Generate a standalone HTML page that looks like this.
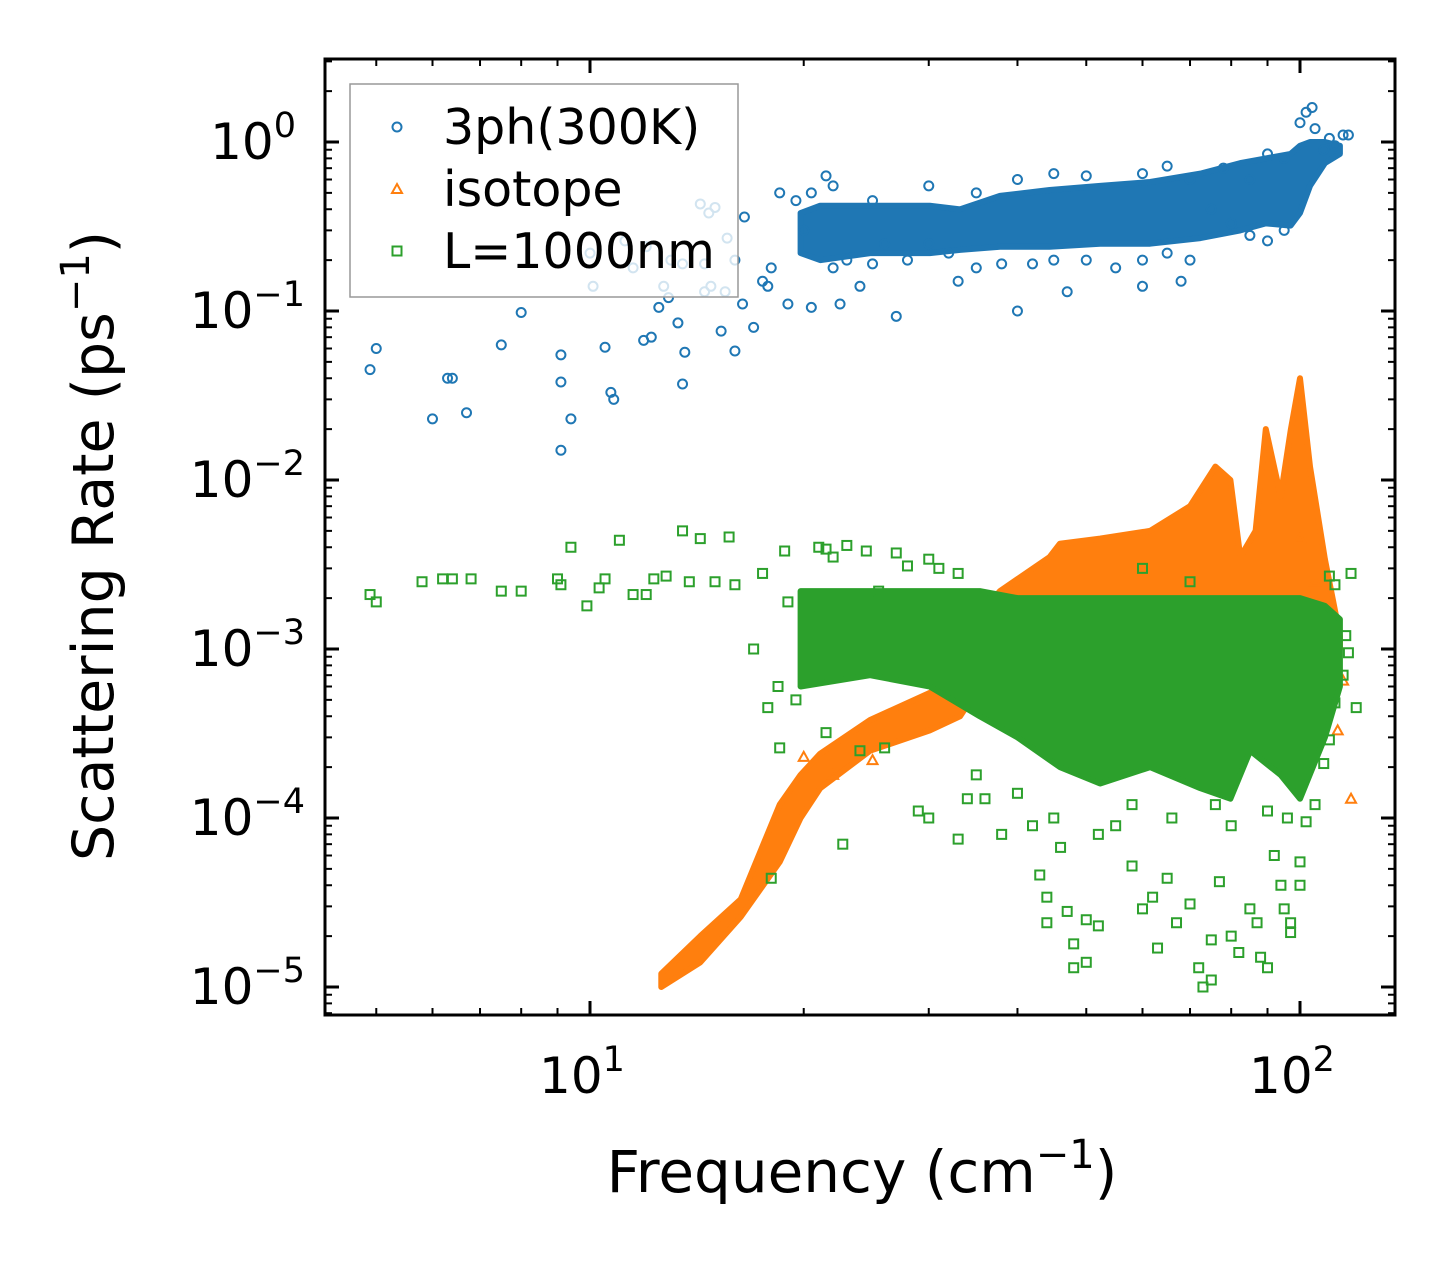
<!DOCTYPE html>
<html><head><meta charset="utf-8"><style>
body{margin:0;background:#fff}
svg text{font-family:"DejaVu Sans","Liberation Sans",sans-serif;fill:#000}
</style></head><body>
<svg id="chart" width="1455" height="1265" xmlns="http://www.w3.org/2000/svg">
<rect width="1455" height="1265" fill="#fff"/>
<g id="pts"></g>
<g id="axes"></g>
</svg>
<script>
const blueBandF=[19.8,21.1,24.8,27.3,30.1,33.2,37.8,44.4,52.3,61.5,72.4,82.4,89.5,97,100,103.3,108.4,113.8];
const blueBandLo=[0.22,0.2,0.22,0.22,0.22,0.23,0.24,0.24,0.25,0.25,0.27,0.3,0.33,0.32,0.38,0.55,0.75,0.85];
const blueBandHi=[0.38,0.42,0.42,0.42,0.42,0.4,0.48,0.52,0.55,0.58,0.65,0.75,0.8,0.85,0.95,1.0,1.0,0.95];
const orLowF=[12.6,14.3,16.3,18.5,19.8,21.1,24.8,30.1,33.2,35.4];
const orLowLo=[1.0e-5,1.4e-5,2.6e-5,5.5e-5,1.0e-4,1.5e-4,2.5e-4,3.3e-4,4e-4,6e-4];
const orLowHi=[1.2e-5,2.0e-5,3.3e-5,1.2e-4,1.8e-4,2.4e-4,3.8e-4,5.5e-4,7e-4,1.0e-3];
const orUpF=[35.4,37.8,44.4,45.9,52.3,61.5,70,76,79.8,82.4,86.6,89.5,93.9,97.1,100,103.3,108.4,113.8];
const orUpLo=[1e-3,1e-3,1.2e-3,1.3e-3,1.4e-3,1.4e-3,1.5e-3,1.5e-3,1.5e-3,1.5e-3,1.8e-3,2e-3,2e-3,2e-3,2e-3,1.8e-3,1.5e-3,1e-3];
const orUpHi=[1.6e-3,2.2e-3,3.5e-3,4.2e-3,4.5e-3,5.0e-3,7e-3,1.2e-2,1.0e-2,3.5e-3,5e-3,2.0e-2,8e-3,2.0e-2,4.0e-2,1.2e-2,3.4e-3,1.2e-3];
const grBandF=[19.8,24.8,30.1,35.4,40,45.9,52.3,61.5,72.4,79.8,85.1,93.9,100,108.4,113.8];
const grBandLo=[6e-4,7e-4,6e-4,4e-4,3e-4,2.0e-4,1.6e-4,2.0e-4,1.5e-4,1.3e-4,2.5e-4,1.8e-4,1.3e-4,3e-4,6e-4];
const grBandHi=[2.2e-3,2.2e-3,2.2e-3,2.2e-3,2.0e-3,2.0e-3,2.0e-3,2.0e-3,2.0e-3,2.0e-3,2.0e-3,2.0e-3,2.0e-3,1.8e-3,1.5e-3];
const blueF=[4.9,5.0,6.0,6.3,6.4,6.7,7.5,8.0,9.1,9.1,9.1,9.4,10.1,10.5,10.7,10.8,11.5,11.9,12.2,12.5,12.7,12.9,13.3,13.5,13.6,13.5,14.3,14.8,14.5,14.5,15.3,15.5,15.6,16,16.4,17,17.5,11.2,12,13,10,14.7,16.5,15,17.8,19,20.5,21.5,22.5,27,24,33,40,47,60,68,18,16,19.5,18.5,20,20.5,22,25,30,35,40,45,50,60,65,70,78,85,90,95,102,104,100,105,110,115,117,112,108,85,90,95,80,75,70,65,60,55,50,45,42,38,35,32,28,25,23,22,26,30];
const blueR=[0.045,0.06,0.023,0.04,0.04,0.025,0.063,0.098,0.015,0.038,0.055,0.023,0.14,0.061,0.033,0.03,0.18,0.067,0.07,0.105,0.14,0.12,0.085,0.037,0.057,0.19,0.43,0.14,0.13,0.19,0.076,0.13,0.27,0.058,0.11,0.08,0.15,0.26,0.24,0.2,0.22,0.38,0.36,0.41,0.14,0.11,0.105,0.63,0.11,0.093,0.14,0.15,0.1,0.13,0.14,0.15,0.18,0.2,0.45,0.5,0.3,0.5,0.55,0.45,0.55,0.5,0.6,0.65,0.63,0.65,0.72,0.6,0.7,0.6,0.85,0.8,1.5,1.6,1.3,1.2,1.05,1.1,1.1,0.95,0.9,0.28,0.26,0.3,0.33,0.4,0.2,0.22,0.2,0.18,0.2,0.2,0.19,0.19,0.18,0.22,0.2,0.19,0.2,0.18,0.25,0.25];
const orF=[118,113,110,105,100,115,20,22,25];
const orR=[0.00013,0.00033,0.00075,0.0025,0.0045,0.00065,0.00023,0.00018,0.00022];
const grF=[4.9,5.0,5.8,6.2,6.4,6.8,7.5,8.0,9.0,9.1,9.4,9.9,10.3,10.5,11,11.5,12,12.3,12.8,13.5,13.8,14.3,15,15.7,16,17.5,17,17.8,18.4,18.8,19,19.5,20.5,21,21.5,22,23,24.5,25.5,27,28,30,31,33,18.5,18,21.5,22.7,24,26,29,30,33,34,35,36,38,40,42,43,44,44,46,47,48,48,50,50,52,55,58,60,62,63,65,67,70,72,73,75,75,77,80,82,85,87,88,90,92,94,95,97,97,100,100,102,105,108,110,112,115,116,118,117,120,112,110,60,70,85,76,80,66,58,52,45,90,96];
const grR=[0.0021,0.0019,0.0025,0.0026,0.0026,0.0026,0.0022,0.0022,0.0026,0.0024,0.004,0.0018,0.0023,0.0026,0.0044,0.0021,0.0021,0.0026,0.0027,0.005,0.0025,0.0045,0.0025,0.0046,0.0024,0.0028,0.001,0.00045,0.0006,0.0038,0.0019,0.0005,0.0016,0.004,0.0039,0.0035,0.0041,0.0038,0.0022,0.0037,0.0031,0.0034,0.003,0.0028,0.00026,0.000044,0.00032,0.00007,0.00025,0.00026,0.00011,0.0001,0.000075,0.00013,0.00018,0.00013,0.00008,0.00014,0.00009,0.000046,0.000034,0.000024,0.000067,0.000028,0.000013,0.000018,0.000014,0.000025,0.000023,0.00009,0.000052,0.000029,0.000034,0.000017,0.000044,0.000024,0.000031,0.000013,0.00001,0.000011,0.000019,0.000042,0.00002,0.000016,0.000029,0.000024,0.000015,0.000013,0.00006,0.00004,0.000029,0.000021,0.000024,0.000055,0.00004,0.000095,0.00012,0.00021,0.00029,0.00048,0.0007,0.0012,0.0028,0.00095,0.00045,0.0024,0.0027,0.003,0.0025,0.0018,0.00012,0.00009,0.0001,0.00012,0.00008,0.0001,0.00011,0.0001];
const xTickVals=[10,100];
const yTickExps=[0,-1,-2,-3,-4,-5];

const NS="http://www.w3.org/2000/svg";
const X=f=>590+710*(Math.log10(f)-1);
const Y=r=>142-169*Math.log10(r);
const C={b:"#1f77b4",o:"#ff7f0e",g:"#2ca02c"};
function mk(tag,attrs,parent){const e=document.createElementNS(NS,tag);for(const k in attrs)e.setAttribute(k,attrs[k]);parent.appendChild(e);return e;}
const pts=document.getElementById('pts'),axes=document.getElementById('axes');
function band(F,Lo,Hi,col,name,parent){
  let d=F.map((f,i)=>(i?'L':'M')+X(f).toFixed(1)+','+Y(Hi[i]).toFixed(1)).join('');
  for(let i=F.length-1;i>=0;i--)d+='L'+X(F[i]).toFixed(1)+','+Y(Lo[i]).toFixed(1);
  const p=mk('path',{d:d+'Z',fill:col,stroke:col,'stroke-width':6,'stroke-linejoin':'round'},parent);
  
  
}
function marker(type,x,y,col,parent){
  let e;
  if(type==='b')e=mk('circle',{cx:x,cy:y,r:4.5,fill:'none',stroke:col,'stroke-width':2},parent);
  else if(type==='o')e=mk('path',{d:`M${x},${y-5}L${x+5},${y+4}L${x-5},${y+4}Z`,fill:'none',stroke:col,'stroke-width':2},parent);
  else e=mk('rect',{x:x-4.5,y:y-4.5,width:9,height:9,fill:'none',stroke:col,'stroke-width':2},parent);
  return e;
}
const gb=mk('g',{},pts);
band(blueBandF,blueBandLo,blueBandHi,C.b,'3ph-dense-band',gb);
blueF.forEach((f,i)=>{const e=marker('b',X(f),Y(blueR[i]),C.b,gb);

});
const go=mk('g',{},pts);
band(orLowF,orLowLo,orLowHi,C.o,'isotope-low-band',go);
band(orUpF,orUpLo,orUpHi,C.o,'isotope-high-band',go);
orF.forEach((f,i)=>{const e=marker('o',X(f),Y(orR[i]),C.o,go);

});
const gg=mk('g',{},pts);
band(grBandF,grBandLo,grBandHi,C.g,'boundary-dense-band',gg);
grF.forEach((f,i)=>{const e=marker('g',X(f),Y(grR[i]),C.g,gg);

});

const L=325,R=1395,T=59,B=1015;
const fr=mk('rect',{x:L,y:T,width:R-L,height:B-T,fill:'none',stroke:'#000','stroke-width':3},axes);

const tk=(x1,y1,x2,y2,w)=>mk('line',{x1,y1,x2,y2,stroke:'#000','stroke-width':w},axes);
for(let dec=1;dec<=100;dec*=10)for(let m=1;m<10;m++){const f=dec*m,x=X(f);if(x<L||x>R)continue;
  const len=m===1?14:7,w=m===1?3:2;tk(x,B,x,B-len,w);tk(x,T,x,T+len,w);}
xTickVals.forEach(v=>{const t=mk('text',{x:X(v)-8,y:1093,'font-size':50,'text-anchor':'middle'},axes);
  
  t.innerHTML='10<tspan dy="-22" font-size="35">'+Math.round(Math.log10(v))+'</tspan>';});
for(let e=-6;e<=0;e++)for(let m=1;m<10;m++){const y=Y(m*Math.pow(10,e));if(y<T||y>B)continue;
  const len=m===1?14:7,w=m===1?3:2;tk(L,y,L+len,y,w);tk(R,y,R-len,y,w);}
yTickExps.forEach(e=>{const t=mk('text',{x:e<0?305:296,y:Y(Math.pow(10,e))+17,'font-size':50,'text-anchor':'end'},axes);
  
  t.innerHTML='10<tspan dy="-22" font-size="35">'+(e<0?'\u2212'+(-e):'0')+'</tspan>';});
const xt=mk('text',{x:862,y:1192,'font-size':58,'text-anchor':'middle'},axes);

xt.innerHTML='Frequency (cm<tspan dy="-24" font-size="40">\u22121</tspan><tspan dy="24">)</tspan>';
const yt=mk('text',{x:0,y:0,'font-size':57,'text-anchor':'middle',transform:'translate(113,546) rotate(-90)'},axes);

yt.innerHTML='Scattering Rate (ps<tspan dy="-24" font-size="40">\u22121</tspan><tspan dy="24">)</tspan>';
const lg=mk('g',{},axes);
mk('rect',{x:350,y:84,width:388,height:213,fill:'#fff','fill-opacity':0.8,stroke:'#999','stroke-width':1.5},lg);
[['b','3ph(300K)',127],['o','isotope',189],['g','L=1000nm',251]].forEach(([k,lab,y])=>{
  const e=marker(k,397,y,C[k],lg);
  
  
  const t=mk('text',{x:443,y:y+17,'font-size':49},lg);t.textContent=lab;
  
  
});
</script>
</body></html>
